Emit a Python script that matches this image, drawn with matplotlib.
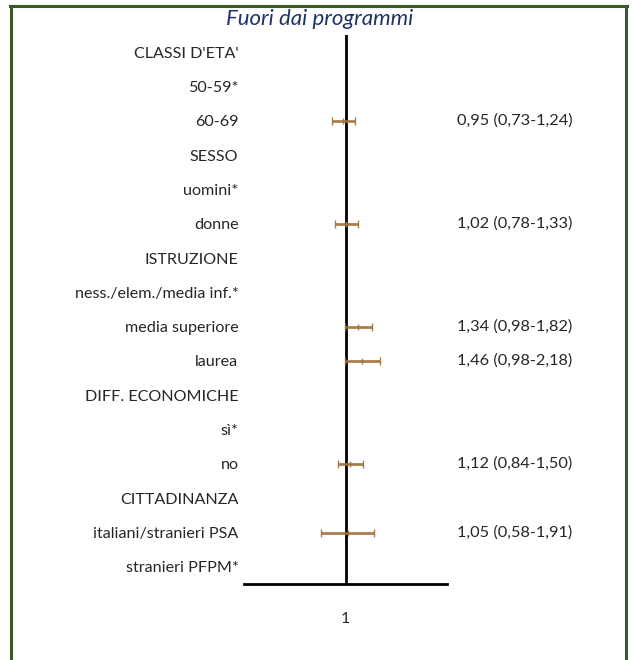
import matplotlib.pyplot as plt

labels = ["CLASSI D'ETA'", "50-59*", "60-69", "SESSO", "uomini*", "donne",
          "ISTRUZIONE", "ness./elem./media inf.*", "media superiore", "laurea",
          "DIFF. ECONOMICHE", "sì*", "no", "CITTADINANZA",
          "italiani/stranieri PSA", "stranieri PFPM*"]
# odds ratio, lower, upper (None = header or reference category)
est = [None, None, 0.95, None, None, 1.02, None, None, 1.34, 1.46, None, None, 1.12, None, 1.05, None]
low = [None, None, 0.73, None, None, 0.78, None, None, 0.98, 0.98, None, None, 0.84, None, 0.58, None]
high = [None, None, 1.24, None, None, 1.33, None, None, 1.82, 2.18, None, None, 1.50, None, 1.91, None]

brown = "#A0703C"
txt = "#262626"
font = "Lato"

fig = plt.figure(figsize=(6.32, 6.60), dpi=100)
ax = fig.add_axes([244 / 632, 1 - 584 / 660, 203 / 632, (584 - 35) / 660])

rows = list(range(len(labels)))
for i in rows:
    if est[i] is None:
        continue
    ax.errorbar(est[i], i, xerr=[[est[i] - low[i]], [high[i] - est[i]]],
                fmt='|', color=brown, ecolor=brown, elinewidth=2, capsize=3,
                capthick=2, markersize=4, markeredgewidth=1, alpha=0.9, zorder=3)
    txt_val = "%.2f (%.2f-%.2f)" % (est[i], low[i], high[i])
    ax.text(1.049, i, txt_val.replace(".", ","), transform=ax.get_yaxis_transform(),
            ha='left', va='center', fontsize=11.8, color=txt, family=font)

ax.axvline(1, color='black', lw=2, zorder=2)
ax.set_xscale('log')
ax.set_xlim(0.1, 10)
ax.set_ylim(len(labels) - 0.5, -0.5)
ax.set_yticks(rows, labels, fontsize=11.6, color=txt, family=font)
ax.set_xticks([1], ["1"], fontsize=11.4, color=txt, family=font)
ax.minorticks_off()
ax.tick_params(axis='y', length=0, pad=4)
ax.tick_params(axis='x', length=0, pad=20)
for s in ['left', 'right', 'top']:
    ax.spines[s].set_visible(False)
ax.spines['bottom'].set_linewidth(2)

fig.text(320 / 632, 1 - 19 / 660, "Fuori dai programmi", ha='center', va='center',
         fontsize=16, style='italic', color="#1F3566", family=font)

# green frame, open at the bottom
frame = "#3A5A25"
fig.add_artist(plt.Line2D([11 / 632, 11 / 632], [0, 1 - 6 / 660], color=frame, lw=2.2))
fig.add_artist(plt.Line2D([626 / 632, 626 / 632], [0, 1 - 6 / 660], color=frame, lw=2.2))
fig.add_artist(plt.Line2D([10 / 632, 627 / 632], [1 - 6 / 660, 1 - 6 / 660], color=frame, lw=2.2))

fig.savefig("out.png", dpi=100)
